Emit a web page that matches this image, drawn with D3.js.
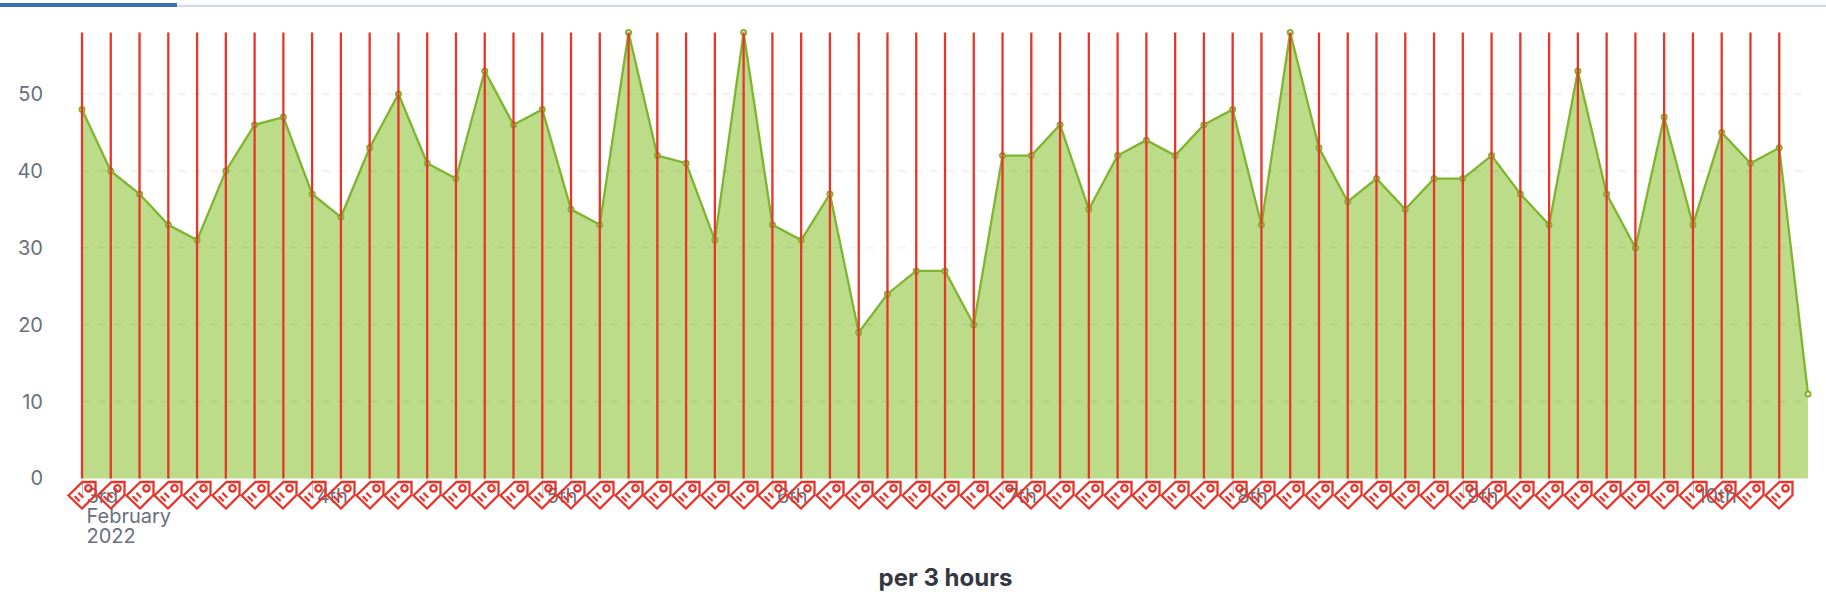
<!DOCTYPE html>
<html lang="en">
<head>
  <meta charset="UTF-8">
  <title>Events per 3 hours</title>
  <script src="https://d3js.org/d3.v7.min.js"></script>
  <style>
    html, body { margin: 0; padding: 0; background: #fff; }
    svg { display: block; }
    text { font-family: Inter, sans-serif; }
    .axis path, .axis line { display: none; }
    .axis text { font-size: 20px; fill: #69707d; }
    .grid line { stroke: #000; stroke-opacity: 0.05; stroke-width: 2; stroke-dasharray: 8 8; }
    .tag { fill: none; stroke: #e7352b; stroke-width: 2.3; }
  </style>
</head>
<body>
  <div id="chart"></div>

  <script>
    // Counts per 3 hour bucket
    const counts = [
      48, 40, 37, 33, 31, 40, 46, 47, 37, 34, 43, 50, 41, 39, 53, 46,
      48, 35, 33, 58, 42, 41, 31, 58, 33, 31, 37, 19, 24, 27, 27, 20,
      42, 42, 46, 35, 42, 44, 42, 46, 48, 33, 58, 43, 36, 39, 35, 39,
      39, 42, 37, 33, 53, 37, 30, 47, 33, 45, 41, 43, 11
    ];
    const startTime = Date.UTC(2022, 1, 3);
    const bucketHours = 3;
    const yTicks = [0, 10, 20, 30, 40, 50];
    const dayTicks = [3, 4, 5, 6, 7, 8, 9, 10];
    const dayLabels = ["3rd", "4th", "5th", "6th", "7th", "8th", "9th", "10th"];
    const firstDayExtra = ["February", "2022"];
    const xTitle = "per 3 hours";

    const times = counts.map((d, i) => new Date(startTime + i * bucketHours * 3600e3));
    const dayTimes = dayTicks.map(d => new Date(Date.UTC(2022, 1, d)));
    // every bucket except the last one has an annotation
    const annotationTimes = times.slice(0, -1);

    const width = 1826, height = 608;
    const x = d3.scaleUtc().domain(d3.extent(times)).range([82, 1808]);
    const y = d3.scaleLinear().domain([0, 58]).range([478.5, 32.5]);

    const svg = d3.select("#chart").append("svg")
      .attr("width", width)
      .attr("height", height);

    // progress bar along the top
    svg.append("rect").attr("x", 0).attr("y", 3).attr("width", width).attr("height", 4).attr("fill", "#f5f7fa");
    svg.append("rect").attr("x", 0).attr("y", 5).attr("width", width).attr("height", 2).attr("fill", "#d3dae6");
    svg.append("rect").attr("x", 0).attr("y", 3).attr("width", 177).attr("height", 4).attr("fill", "#3572b8");

    // area
    const area = d3.area().x((d, i) => x(times[i])).y0(y(0)).y1(d => y(d));
    const line = d3.line().x((d, i) => x(times[i])).y(d => y(d));

    svg.append("path").datum(counts)
      .attr("d", area)
      .attr("fill", "#bcdc8a");

    // grid
    svg.append("g").attr("class", "grid")
      .selectAll("line")
      .data(yTicks.slice(1))
      .join("line")
      .attr("x1", x.range()[0])
      .attr("x2", x.range()[1])
      .attr("y1", d => y(d))
      .attr("y2", d => y(d));

    svg.append("path").datum(counts)
      .attr("d", line)
      .attr("fill", "none")
      .attr("stroke", "#7db52f")
      .attr("stroke-width", 2.3);

    svg.append("g").selectAll("circle")
      .data(counts)
      .join("circle")
      .attr("cx", (d, i) => x(times[i]))
      .attr("cy", d => y(d))
      .attr("r", 2.5)
      .attr("fill", "#fff")
      .attr("stroke", "#7db52f")
      .attr("stroke-width", 2);

    // y axis
    svg.append("g").attr("class", "axis")
      .attr("transform", "translate(52,0)")
      .call(d3.axisLeft(y).tickValues(yTicks).tickSize(0).tickPadding(9).tickFormat(d3.format("d")));

    // x axis
    const xAxis = svg.append("g").attr("class", "axis")
      .attr("transform", "translate(0," + y(0) + ")")
      .call(d3.axisBottom(x).tickValues(dayTimes).tickSize(0).tickFormat((d, i) => dayLabels[i]));

    xAxis.selectAll(".tick text")
      .attr("text-anchor", "start")
      .attr("x", 4)
      .attr("y", 0)
      .attr("dy", 24);

    xAxis.selectAll(".tick").append("rect")
      .attr("x", -0.5)
      .attr("y", 2)
      .attr("width", 1)
      .attr("height", 17)
      .attr("fill", "#b5b5b5");

    const firstTick = xAxis.select(".tick text");
    firstDayExtra.forEach(t => {
      firstTick.append("tspan").attr("x", 4).attr("dy", 20).text(t);
    });

    svg.append("text")
      .attr("x", 945.5)
      .attr("y", 586)
      .attr("text-anchor", "middle")
      .attr("font-size", 24)
      .attr("font-weight", 700)
      .attr("fill", "#343741")
      .text(xTitle);

    // annotation lines and tag icons
    svg.append("g").selectAll("line")
      .data(annotationTimes)
      .join("line")
      .attr("x1", d => x(d))
      .attr("x2", d => x(d))
      .attr("y1", y(58))
      .attr("y2", y(0))
      .attr("stroke", "#e7352b")
      .attr("stroke-width", 2.3);

    const tags = svg.append("g").selectAll("g")
      .data(annotationTimes)
      .join("g")
      .attr("class", "tag")
      .attr("transform", d => "translate(" + Math.round(x(d)) + "," + y(0) + ")");

    tags.append("path").attr("d", "M0.5,3.5 H13.5 V16.5 L0,30 L-13.5,17 Z");
    tags.append("circle").attr("cx", 6.5).attr("cy", 9.8).attr("r", 3.2);
    tags.append("path").attr("d", "M-7.3,17.7 L-2.3,22.7 M-3.7,14.3 L1.3,19.3");
  </script>
</body>
</html>
